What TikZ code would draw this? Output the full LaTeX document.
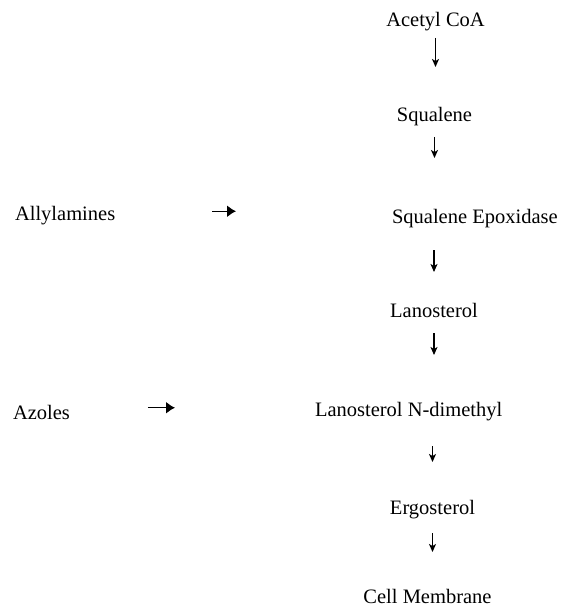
\documentclass[tikz,border=0pt]{standalone}
\usepackage{fontspec}
\setmainfont{Liberation Serif}
\usepackage{tikz}
\usetikzlibrary{arrows.meta}
\tikzstyle{stage}=[inner sep=0, outer sep=0, text height=14pt, text depth=4.5pt, anchor=base]
\tikzstyle{drug}=[stage, anchor=base west]
\tikzstyle{down}=[line width=1.1pt, -{Stealth[length=8pt, width=7pt, inset=2pt]}]
\tikzstyle{blocks}=[line width=1.4pt, -{Latex[length=9pt, width=12pt]}]
\tikzstyle{pathway}=[x=1pt, y=-1pt,
                     every node/.style={font=\fontsize{20.5}{24}\selectfont}]

\begin{document}
\begin{tikzpicture}[pathway]
    \useasboundingbox (0, 0) rectangle (562, 609);
    % main column
    \node[stage]                    (acetyl)   at (435.5, 27)  {Acetyl CoA};
    \node[stage]                    (squalene) at (434.5, 122) {Squalene};
    \node[stage, anchor=base west]  (epox)     at (392, 224)   {Squalene Epoxidase};
    \node[stage]                    (lanost)   at (434, 317)   {Lanosterol};
    \node[stage, anchor=base west]  (ndmeth)   at (315, 416)   {Lanosterol N-dimethyl};
    \node[stage]                    (ergo)     at (432.5, 514) {Ergosterol};
    \node[stage]                    (membrane) at (427.5, 603) {Cell Membrane};
    % inhibitors
    \node[drug] (allyl)  at (15, 221) {Allylamines};
    \node[drug] (azoles) at (13, 419) {Azoles};
    % steps
    \draw[down, shorten <=6.5pt, shorten >=41pt] (acetyl.south) -- (acetyl.south |- squalene.north);
    \draw[down, shorten <=10.5pt, shorten >=52pt] (squalene.south) -- (squalene.south |- epox.north);
    \draw[down, shorten <=21.5pt, shorten >=31pt] (lanost.north |- epox.south) -- (lanost.north);
    \draw[down, shorten <=11.5pt, shorten >=47pt] (lanost.south) -- (lanost.south |- ndmeth.north);
    \draw[down, shorten <=25.5pt, shorten >=38pt] (ergo.north |- ndmeth.south) -- (ergo.north);
    \draw[down, shorten <=14.5pt, shorten >=37pt] (ergo.south) -- (ergo.south |- membrane.north);
    % targets
    \draw[blocks, shorten <=97pt, shorten >=156pt] ([yshift=5pt]allyl.east) -- ([yshift=5pt]allyl.east -| epox.west);
    \draw[blocks, shorten <=78pt, shorten >=140pt] ([yshift=6.5pt]azoles.east) -- ([yshift=6.5pt]azoles.east -| ndmeth.west);
\end{tikzpicture}
\end{document}
